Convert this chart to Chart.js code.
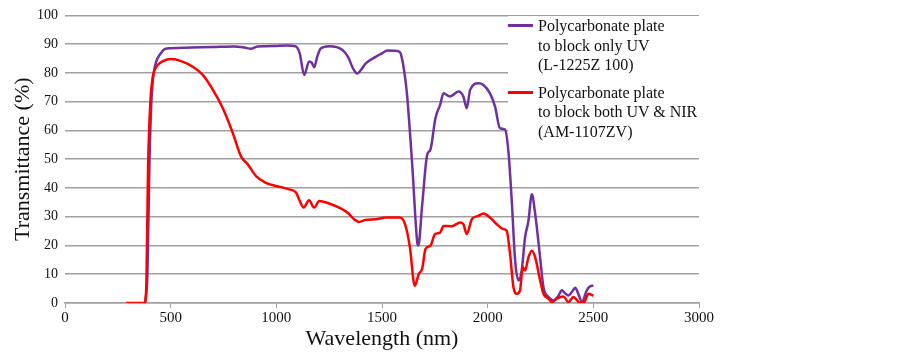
<!DOCTYPE html>
<html>
<head>
<meta charset="utf-8">
<script src="https://cdn.jsdelivr.net/npm/chart.js@4"></script>
<style>
  body { margin: 0; background: #fff; }
  #wrap { position: relative; width: 902px; height: 356px; }
  #legend {
    position: absolute; left: 508px; top: 16px; width: 196px; height: 122px;
    background: #fff; font-family: "Liberation Serif", "Times New Roman", serif;
    font-size: 16px; color: #111; line-height: 19.5px;
  }
  .item { position: relative; padding-left: 30px; margin-bottom: 8px; }
  .swatch { position: absolute; left: 0; top: 8px; width: 25px; height: 3px; }
</style>
</head>
<body>
<div id="wrap">
  <canvas id="myChart" width="902" height="356"></canvas>
  <div id="legend">
    <div class="item"><span class="swatch" style="background:#7030A0"></span>Polycarbonate plate<br>to block only UV<br>(L-1225Z 100)</div>
    <div class="item"><span class="swatch" style="background:#FF0000"></span>Polycarbonate plate<br>to block both UV &amp; NIR<br>(AM-1107ZV)</div>
  </div>
</div>
<script>
// Wavelength (nm) and transmittance (%)
const uvWavelength = [380, 390, 400, 410, 420, 432, 450, 472, 500, 600, 700, 800, 850, 880, 910, 950, 1000, 1050, 1090, 1110, 1132, 1155, 1168, 1179, 1195, 1210, 1250, 1313, 1340, 1360, 1383, 1400, 1423, 1470, 1500, 1525, 1560, 1585, 1596, 1610, 1619, 1643, 1667, 1672, 1690, 1714, 1729, 1753, 1775, 1791, 1822, 1862, 1885, 1901, 1917, 1956, 1980, 2011, 2035, 2058, 2082, 2098, 2114, 2130, 2146, 2161, 2177, 2193, 2209, 2225, 2248, 2264, 2288, 2311, 2335, 2351, 2365, 2382, 2400, 2414, 2430, 2445, 2469, 2485, 2500];
const uvTransmittance = [0.5, 10, 50, 72, 80, 84, 86.5, 88.3, 88.6, 88.8, 89, 89.2, 88.8, 88.4, 89.2, 89.3, 89.4, 89.5, 89.3, 87, 79.3, 84, 83.5, 82, 86, 88.5, 89.3, 88, 85.5, 82, 79.8, 81, 83.3, 85.6, 86.8, 87.8, 87.7, 87.2, 84.5, 78, 72, 48, 21, 20, 34, 51.6, 53.3, 64.3, 68.9, 72.9, 71.8, 73.5, 71.8, 67.7, 74.1, 76.4, 75.8, 72.9, 68.3, 60.8, 60.3, 52.8, 35.5, 14.7, 7.8, 11.3, 22.8, 28.6, 37.8, 30.9, 15.9, 5.5, 2.1, 0.9, 2.5, 4.4, 3.5, 2.6, 4, 5.3, 3, 0.3, 4.4, 5.8, 6.1];

const nirWavelength = [290, 377, 385, 393, 404, 417, 432, 464, 503, 550, 605, 652, 700, 747, 794, 833, 865, 904, 951, 998, 1061, 1093, 1108, 1129, 1155, 1179, 1203, 1250, 1297, 1336, 1368, 1391, 1423, 1470, 1517, 1585, 1609, 1632, 1655, 1674, 1690, 1706, 1729, 1751, 1775, 1791, 1830, 1870, 1885, 1901, 1925, 1956, 1980, 2011, 2043, 2074, 2090, 2106, 2122, 2138, 2153, 2166, 2177, 2193, 2209, 2225, 2245, 2264, 2288, 2304, 2327, 2359, 2382, 2406, 2438, 2457, 2477, 2500];
const nirTransmittance = [0, 0, 6.7, 47, 70, 79.3, 82.1, 84.1, 84.8, 84.1, 82.1, 79.3, 74.1, 67.7, 59.1, 51, 48.2, 44.1, 41.8, 40.7, 39.5, 38.4, 36, 33.2, 35.7, 33.2, 35.5, 34.6, 33.2, 31.5, 29.1, 28.2, 28.9, 29.1, 29.7, 29.7, 27.4, 19.4, 6, 10.1, 11.9, 18.8, 19.9, 24, 24.5, 26.8, 26.7, 28, 27.4, 24, 29.1, 30.3, 31.1, 29.7, 27.4, 25.7, 25.1, 17, 5.5, 3.2, 4.4, 12.4, 11.3, 15.9, 18.2, 15.9, 9, 3.2, 1.5, 0.3, 1.5, 2.3, 0.3, 2.1, 0, 0.3, 3.2, 2.6];

const xTicks = [0, 500, 1000, 1500, 2000, 2500, 3000];
const yTicks = [0, 10, 20, 30, 40, 50, 60, 70, 80, 90, 100];

const serif = '"Liberation Serif", "Times New Roman", serif';
const toPoints = (xs, ys) => xs.map((x, i) => ({ x: x, y: ys[i] }));

const ctx = document.getElementById('myChart').getContext('2d');
const myChart = new Chart(ctx, {
    type: 'line',
    data: {
        datasets: [{
            label: 'Polycarbonate plate to block both UV & NIR (AM-1107ZV)',
            data: toPoints(nirWavelength, nirTransmittance),
            borderColor: '#FF0000',
            borderWidth: 2.5,
            pointRadius: 0,
            cubicInterpolationMode: 'monotone'
        }, {
            label: 'Polycarbonate plate to block only UV (L-1225Z 100)',
            data: toPoints(uvWavelength, uvTransmittance),
            borderColor: '#7030A0',
            borderWidth: 2.5,
            pointRadius: 0,
            cubicInterpolationMode: 'monotone'
        }]
    },
    options: {
        responsive: false,
        animation: false,
        layout: { padding: { top: 13, right: 203, left: 0, bottom: 0 } },
        plugins: { legend: { display: false }, tooltip: { enabled: false } },
        scales: {
            x: {
                type: 'linear',
                min: 0, max: 3000,
                afterBuildTicks: s => { s.ticks = xTicks.map(v => ({ value: v })); },
                afterFit: s => { s.height = 53; },
                grid: { drawOnChartArea: false, drawTicks: true, tickLength: 5, color: '#a0a0a0' },
                border: { display: true, color: '#a0a0a0', width: 1.5 },
                ticks: { color: '#111', font: { family: serif, size: 15 }, padding: 1, maxRotation: 0,
                         callback: v => String(v) },
                title: { display: true, text: 'Wavelength (nm)', color: '#111', font: { family: serif, size: 22 },
                         padding: { top: 0, bottom: 4 } }
            },
            y: {
                min: 0, max: 100,
                afterBuildTicks: s => { s.ticks = yTicks.map(v => ({ value: v })); },
                afterFit: s => { s.width = 65; },
                grid: { color: '#a0a0a0', lineWidth: 1.5, drawTicks: false },
                border: { display: false },
                ticks: { color: '#111', font: { family: serif, size: 14 }, padding: 7 },
                title: { display: true, text: 'Transmittance (%)', color: '#111', font: { family: serif, size: 22 },
                         padding: { top: 10, bottom: 0 } }
            }
        }
    }
});
</script>
</body>
</html>
